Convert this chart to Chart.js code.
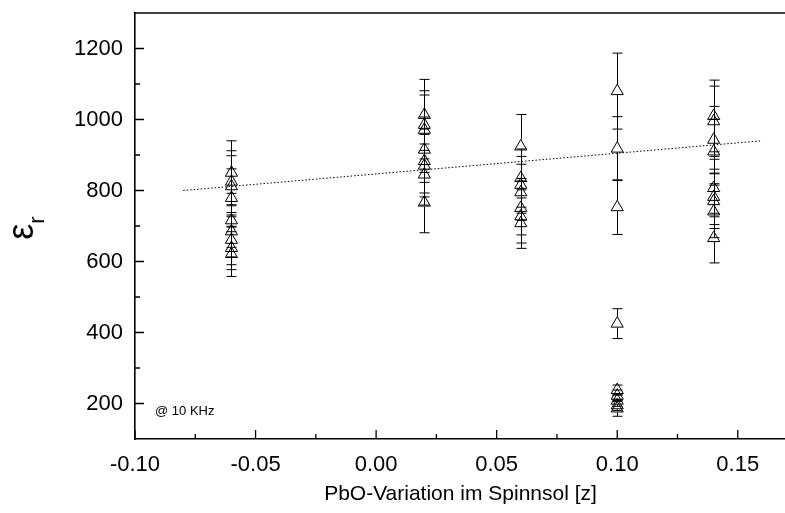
<!DOCTYPE html>
<html><head><meta charset="utf-8">
<script src="https://cdn.jsdelivr.net/npm/chart.js@4.4.0/dist/chart.umd.min.js"></script>
<style>
html,body{margin:0;padding:0;background:#fff;overflow:hidden;}
#wrap{width:785px;height:513px;overflow:hidden;position:relative;background:#fff;}
canvas{display:block;}
</style></head><body>
<div id="wrap"><canvas id="c" width="800" height="513" style="width:800px;height:513px"></canvas></div>
<script>
// ---- data ----
const pboM06 = -0.06, pboP02 = 0.02, pboP06 = 0.06, pboP10 = 0.10, pboP14 = 0.14;
const epsM06 = [850, 825, 812, 779, 716, 685, 661, 638, 621];
const errM06 = [90, 87, 86, 82, 76, 72, 70, 61, 63];
const epsP02 = [1013, 985, 971, 915, 883, 870, 845, 766];
const errP02 = [100, 96, 98, 92, 90, 88, 86, 85];
const epsP06 = [924, 835, 816, 795, 751, 727, 708];
const errP06 = [90, 82, 80, 79, 76, 75, 71];
const epsP10 = [1080, 918, 753, 425, 238, 222, 208, 195, 186];
const errP10 = [107, 90, 77, 42, 14, 16, 16, 15, 22];
const epsP14 = [1010, 995, 943, 910, 807, 782, 770, 741, 666];
const errP14 = [101, 99, 94, 91, 81, 78, 77, 74, 70];
const fitX = [-0.08, 0.16];
const fitY = [800, 940];
const xTickValues = [-0.10, -0.05, 0.00, 0.05, 0.10, 0.15];
const xTickLabels = ['-0.10', '-0.05', '0.00', '0.05', '0.10', '0.15'];
const xMinorTicks = [-0.075, -0.025, 0.025, 0.075, 0.125];
const yTickValues = [200, 400, 600, 800, 1000, 1200];
const yTickLabels = ['200', '400', '600', '800', '1000', '1200'];
const yMinorTicks = [300, 500, 700, 900, 1100];
const xTitle = 'PbO-Variation im Spinnsol [z]';
const yTitleMain = 'ε';
const yTitleSub = 'r';
const noteText = '@ 10 KHz';

// ---- build points ----
const groups = [[pboM06, epsM06, errM06], [pboP02, epsP02, errP02], [pboP06, epsP06, errP06], [pboP10, epsP10, errP10], [pboP14, epsP14, errP14]];
const points = [];
groups.forEach(([gx, ys, es]) => ys.forEach((v, i) => points.push({x: gx, y: v, e: es[i]})));

const FONT = "'Liberation Sans', Arial, Helvetica, sans-serif";

const errorBars = {
  id: 'errorBars',
  beforeDatasetsDraw(chart) {
    const {ctx} = chart; const xs = chart.scales.x, ys = chart.scales.y;
    ctx.save(); ctx.strokeStyle = '#000'; ctx.lineWidth = 1;
    points.forEach(p => {
      const px = Math.round(xs.getPixelForValue(p.x)) + 0.5;
      const py = ys.getPixelForValue(p.y);
      const hi = ys.getPixelForValue(p.y + p.e), lo = ys.getPixelForValue(p.y - p.e);
      ctx.beginPath();
      if (py - 7 > hi) { ctx.moveTo(px, py - 7); ctx.lineTo(px, hi); }
      if (py + 4 < lo) { ctx.moveTo(px, py + 4); ctx.lineTo(px, lo); }
      ctx.moveTo(px - 5, hi); ctx.lineTo(px + 5, hi);
      ctx.moveTo(px - 5, lo); ctx.lineTo(px + 5, lo);
      ctx.stroke();
    });
    ctx.restore();
  }
};

const frame = {
  id: 'frame',
  afterDraw(chart) {
    const {ctx, chartArea: a} = chart; const xs = chart.scales.x, ys = chart.scales.y;
    ctx.save(); ctx.strokeStyle = '#000';
    ctx.lineWidth = 1.6;
    ctx.beginPath(); ctx.moveTo(a.left, a.top); ctx.lineTo(a.right + 5, a.top); ctx.stroke();
    ctx.lineWidth = 1.3;
    ctx.beginPath();
    xTickValues.forEach(v => { const p = xs.getPixelForValue(v); ctx.moveTo(p, a.bottom); ctx.lineTo(p, a.bottom - 9); });
    xMinorTicks.forEach(v => { const p = xs.getPixelForValue(v); ctx.moveTo(p, a.bottom); ctx.lineTo(p, a.bottom - 5); });
    yTickValues.forEach(v => { const p = ys.getPixelForValue(v); ctx.moveTo(a.left, p); ctx.lineTo(a.left + 9, p); });
    yMinorTicks.forEach(v => { const p = ys.getPixelForValue(v); ctx.moveTo(a.left, p); ctx.lineTo(a.left + 5, p); });
    ctx.stroke();
    // note text
    ctx.fillStyle = '#000';
    ctx.font = '13px ' + FONT; ctx.textAlign = 'left'; ctx.textBaseline = 'middle';
    ctx.fillText(noteText, a.left + 20, 411);
    // y title
    ctx.translate(33, 228); ctx.rotate(-Math.PI / 2);
    ctx.textBaseline = 'alphabetic'; ctx.textAlign = 'left';
    ctx.font = '36px ' + FONT;
    const w = ctx.measureText(yTitleMain).width;
    ctx.font = '22px ' + FONT;
    const w2 = ctx.measureText(yTitleSub).width;
    const start = -(w + w2) / 2;
    ctx.font = '36px ' + FONT;
    ctx.fillText(yTitleMain, start, 0);
    ctx.font = '22px ' + FONT;
    ctx.fillText(yTitleSub, start + w, 11);
    ctx.restore();
  }
};

new Chart(document.getElementById('c'), {
  data: {
    datasets: [
      { type: 'line', data: [{x: fitX[0], y: fitY[0]}, {x: fitX[1], y: fitY[1]}], borderColor: '#000', borderWidth: 1, borderDash: [1.5, 2], pointRadius: 0, fill: false },
      { type: 'scatter', data: points.map(p => ({x: p.x, y: p.y})), pointStyle: 'triangle', pointRadius: 7, borderColor: '#000', borderWidth: 1, backgroundColor: 'rgba(0,0,0,0)' }
    ]
  },
  options: {
    responsive: false, animation: false, events: [],
    layout: { padding: { left: 0, top: 13, right: 14, bottom: 0 } },
    plugins: { legend: { display: false }, tooltip: { enabled: false } },
    scales: {
      x: {
        type: 'linear', min: -0.10, max: 0.17,
        grid: { display: true, drawOnChartArea: false, drawTicks: false },
        border: { display: true, color: '#000', width: 1.6 },
        afterBuildTicks(s) { s.ticks = xTickValues.map(v => ({value: v})); },
        afterFit(s) { s.height = 74; s.paddingLeft = 0; s.paddingRight = 0; },
        ticks: { color: '#000', font: { family: FONT, size: 22 }, padding: 13, maxRotation: 0, autoSkip: false,
                 callback: (v, i) => xTickLabels[i] },
        title: { display: true, text: xTitle, color: '#000', font: { family: FONT, size: 21 }, padding: { top: 0, bottom: 6 } }
      },
      y: {
        type: 'linear', min: 100, max: 1300,
        grid: { display: true, drawOnChartArea: false, drawTicks: false },
        border: { display: true, color: '#000', width: 1.6 },
        afterBuildTicks(s) { s.ticks = yTickValues.map(v => ({value: v})); },
        afterFit(s) { s.width = 135; s.paddingTop = 0; s.paddingBottom = 0; },
        ticks: { color: '#000', font: { family: FONT, size: 22 }, padding: 12, autoSkip: false,
                 callback: (v, i) => yTickLabels[i] }
      }
    }
  },
  plugins: [errorBars, frame]
});
</script>
</body></html>
